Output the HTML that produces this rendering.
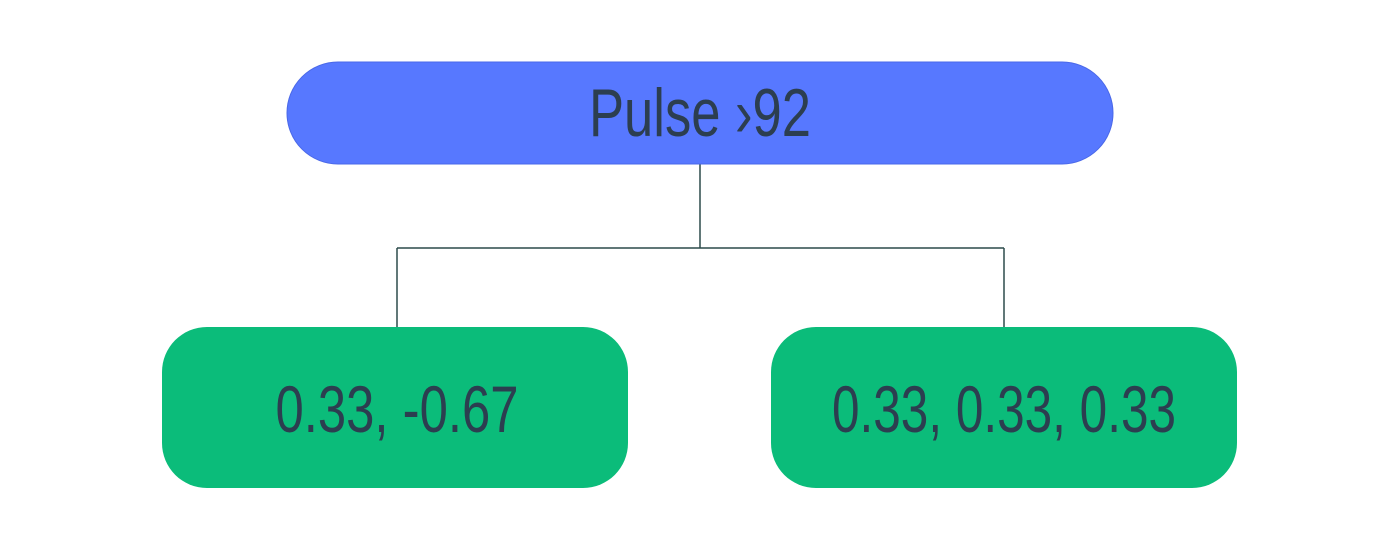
<!DOCTYPE html>
<html>
<head>
<meta charset="utf-8">
<style>
  html, body { margin: 0; padding: 0; background: #ffffff; }
  svg { display: block; }
  text { font-family: "Liberation Sans Narrow", "Liberation Sans", sans-serif; fill: #2c3e50; }
</style>
</head>
<body>
<svg width="1400" height="555" viewBox="0 0 1400 555">
  <g stroke="#2c4a4a" stroke-width="1.5" fill="none">
    <line x1="700" y1="164" x2="700" y2="248"/>
    <line x1="397" y1="248" x2="1004" y2="248"/>
    <line x1="397" y1="248" x2="397" y2="327"/>
    <line x1="1004" y1="248" x2="1004" y2="327"/>
  </g>

  <g>
    <rect x="287" y="62" width="826" height="102" rx="51" ry="51" fill="#5778ff" stroke="#4a68e8" stroke-width="1"/>
    <text x="700" y="136" font-size="68" text-anchor="middle" textLength="222" lengthAdjust="spacingAndGlyphs">Pulse ›92</text>
  </g>

  <g>
    <rect x="162" y="327" width="466" height="161" rx="45" ry="45" fill="#0bbc7a"/>
    <text x="397" y="432" font-size="66" text-anchor="middle" textLength="243" lengthAdjust="spacingAndGlyphs">0.33, -0.67</text>
  </g>

  <g>
    <rect x="771" y="327" width="466" height="161" rx="45" ry="45" fill="#0bbc7a"/>
    <text x="1004" y="432" font-size="66" text-anchor="middle" textLength="344" lengthAdjust="spacingAndGlyphs">0.33, 0.33, 0.33</text>
  </g>
</svg>
</body>
</html>
